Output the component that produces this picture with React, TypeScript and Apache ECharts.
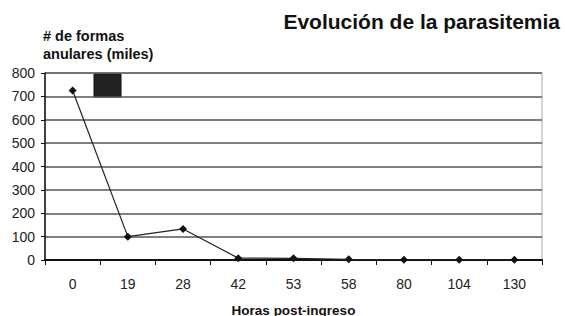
import React, { useEffect, useRef } from "react";
import * as echarts from "echarts";

const categories = ["0", "19", "28", "42", "53", "58", "80", "104", "130"];
const values = [725, 100, 133, 8, 7, 3, 1, 1, 1];
const yTicks = { min: 0, max: 800, interval: 100 };

export default function App() {
  const ref = useRef<HTMLDivElement>(null);
  useEffect(() => {
    if (!ref.current) return;
    const chart = echarts.init(ref.current, undefined, { renderer: "svg" });
    const font = "Liberation Sans, Arial, sans-serif";
    chart.setOption({
      animation: false,
      backgroundColor: "#fff",
      title: [
        {
          text: "Evolución de la parasitemia",
          right: 0,
          top: 6,
          textStyle: { fontFamily: font, fontSize: 21, fontWeight: "bold", color: "#111" },
        },
        {
          text: "# de formas\nanulares (miles)",
          left: 38,
          top: 22,
          textStyle: { fontFamily: font, fontSize: 14.5, fontWeight: "bold", color: "#111", lineHeight: 18 },
        },
      ],
      grid: {
        left: 45,
        right: 23,
        top: 73,
        bottom: 56,
        outerBoundsMode: "none",
        containLabel: false,
        show: true,
        borderColor: "#aaa",
        borderWidth: 1,
      },
      xAxis: {
        type: "category",
        data: categories,
        boundaryGap: true,
        name: "Horas post-ingreso",
        nameLocation: "middle",
        nameGap: 43,
        nameMoveOverlap: false,
        nameTextStyle: { fontFamily: font, fontSize: 13.5, fontWeight: "bold", color: "#111" },
        axisLine: { lineStyle: { color: "#111", width: 2 } },
        axisTick: { show: true, inside: false, length: 5, lineStyle: { color: "#111" } },
        axisLabel: { fontFamily: font, fontSize: 14, color: "#222", margin: 17 },
        splitLine: { show: false },
      },
      yAxis: {
        type: "value",
        min: yTicks.min,
        max: yTicks.max,
        interval: yTicks.interval,
        axisLine: { show: true, lineStyle: { color: "#111", width: 1.5 } },
        axisTick: { show: true, length: 4, lineStyle: { color: "#111" } },
        axisLabel: { fontFamily: font, fontSize: 14, color: "#222", margin: 10 },
        splitLine: { show: true, lineStyle: { color: "#555", width: 1.5 } },
      },
      series: [
        {
          type: "line",
          data: values,
          symbol: "diamond",
          symbolSize: 8,
          itemStyle: { color: "#111" },
          lineStyle: { color: "#222", width: 1.2 },
        },
      ],
      graphic: [
        {
          type: "rect",
          shape: { x: 94, y: 74, width: 27, height: 23 },
          style: { fill: "#222", stroke: "#111", lineWidth: 1 },
        },
      ],
    });
    return () => chart.dispose();
  }, []);
  return <div ref={ref} style={{ width: 565, height: 316, position: "absolute", left: 0, top: 0 }} />;
}
